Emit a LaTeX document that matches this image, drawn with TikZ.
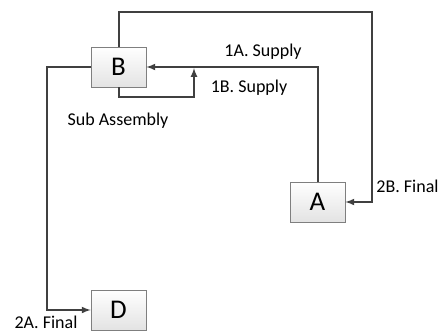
\documentclass[tikz,border=0pt]{standalone}
\usepackage{fontspec}
\setmainfont{Carlito}
\usetikzlibrary{arrows}

\definecolor{linegray}{HTML}{404040}
\definecolor{boxgray}{HTML}{7F7F7F}

\tikzset{
	blk/.style={draw=boxgray, line width=0.8pt, top color=white, bottom color=gray!22,
		minimum width=55pt, minimum height=40pt, font=\fontsize{27}{27}\selectfont},
	conn/.style={draw=linegray, line width=2pt, -latex},
	lbl/.style={font=\fontsize{18}{18}\selectfont, text=black}
}

\begin{document}
\begin{tikzpicture}[x=1pt,y=-1pt]
		\useasboundingbox (0,0) rectangle (442,332);

		% stations
		\node[blk] (B) at (118.5,67) {B};
		\node[blk] (A) at (317.5,202) {A};
		\node[blk] (D) at (118.5,310) {D};

		% corner points
		\coordinate (top) at (372,12);
		\coordinate (loop) at (194,97);
		\coordinate (join) at (194,68);
		\coordinate (left) at (47,67);

		\draw[conn] (A.north) |- (B.east);
		\draw[conn] (B.south) |- (loop) -- (join);
		\draw[conn] (B.north) |- (top) |- (A.east);
		\draw[conn] (B.west) -- (left) |- (D.west);

		\node[lbl] (s1a) at (263,52) {1A. Supply};
		\node[lbl] (s1b) at (249,88) {1B. Supply};
		\node[lbl] (sub) at (118,121) {Sub Assembly};
		\node[lbl] (f2b) at (407.5,186) {2B. Final};
		\node[lbl] (f2a) at (46,322) {2A. Final};
\end{tikzpicture}
\end{document}
